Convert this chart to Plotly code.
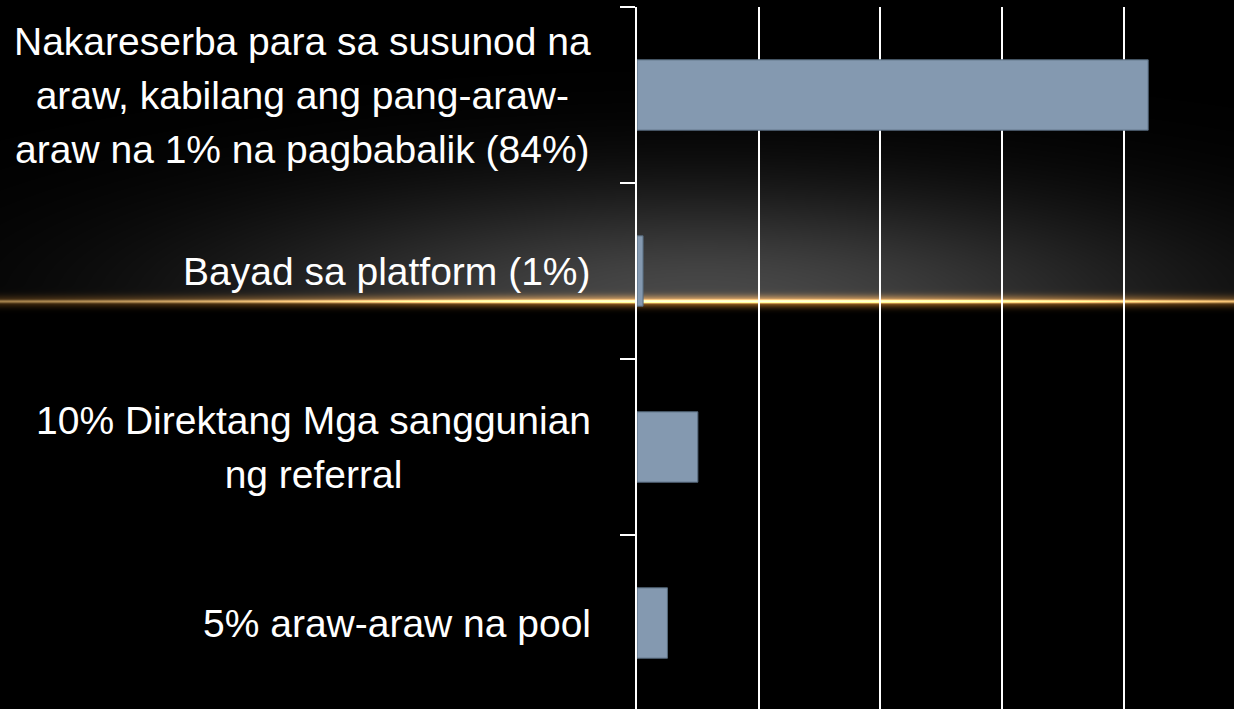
import base64
import struct
import zlib

import numpy as np
import plotly.graph_objects as go

# ---------------- data ----------------
categories = [
    "5% araw-araw na pool",
    "10% Direktang Mga sanggunian<br>ng referral",
    "Bayad sa platform (1%)",
    "Nakareserba para sa susunod na<br>araw, kabilang ang pang-araw-<br>araw na 1% na pagbabalik (84%)",
]
values = [5, 10, 1, 84]

# ---------------- decorative background (glow + golden line) ----------------
W, H = 1234, 709


def make_png(rgb):
    h, w, _ = rgb.shape
    raw = b"".join(b"\x00" + rgb[r].tobytes() for r in range(h))

    def chunk(tag, data):
        c = struct.pack(">I", len(data)) + tag + data
        return c + struct.pack(">I", zlib.crc32(tag + data) & 0xFFFFFFFF)

    png = b"\x89PNG\r\n\x1a\n"
    png += chunk(b"IHDR", struct.pack(">IIBBBBB", w, h, 8, 2, 0, 0, 0))
    png += chunk(b"IDAT", zlib.compress(raw, 9))
    png += chunk(b"IEND", b"")
    return "data:image/png;base64," + base64.b64encode(png).decode()


yy, xx = np.mgrid[0:H, 0:W].astype(float)
line_y = 301.0
img = np.zeros((H, W, 3), dtype=float)
glow = 72 * np.exp(-((xx - 700) / 470) ** 2 - ((yy - 298) / 110) ** 2)
glow *= np.clip((line_y + 3 - yy) / 4.0, 0, 1)
img += glow[..., None]
d = np.abs(yy - line_y)
hint = 0.35 + 0.65 * np.exp(-((xx - 760) / 480) ** 2)
core = np.exp(-(d / 1.6) ** 2) * hint
halo = np.exp(-(d / 6.0) ** 2) * hint
img += core[..., None] * np.array([235, 205, 140])
img += halo[..., None] * np.array([150, 95, 30])
img = np.clip(img, 0, 255).astype(np.uint8)
bg_src = make_png(img)

# ---------------- figure ----------------
L, R, T, B = 637, 0, 7, 0
pw, ph = W - L - R, H - T - B

fig = go.Figure(
    go.Bar(
        x=values,
        y=categories,
        orientation="h",
        marker=dict(color="#8499b0", line=dict(color="#55687b", width=1)),
        width=0.4,
        hoverinfo="x+y",
    )
)

for cat in categories:
    styled = "<br>".join(
        '<span style="font-size:39px">' + part + "</span>" for part in cat.split("<br>")
    )
    fig.add_annotation(
        x=0,
        xref="paper",
        y=cat,
        yref="y",
        text=styled,
        showarrow=False,
        xanchor="right",
        yanchor="middle",
        align="center",
        xshift=-44,
        font=dict(family="Liberation Sans, Arial, sans-serif", size=41.5, color="white"),
    )

fig.add_layout_image(
    source=bg_src,
    xref="paper",
    yref="paper",
    x=-L / pw,
    y=(ph + T) / ph,
    sizex=W / pw,
    sizey=H / ph,
    xanchor="left",
    yanchor="top",
    sizing="stretch",
    layer="below",
)

fig.update_layout(
    width=W,
    height=H,
    margin=dict(l=L, r=R, t=T, b=B, pad=0),
    paper_bgcolor="black",
    plot_bgcolor="rgba(0,0,0,0)",
    showlegend=False,
    bargap=0.6,
)
fig.update_xaxes(
    range=[0, 98.1],
    dtick=20,
    showgrid=True,
    gridcolor="white",
    gridwidth=1.5,
    zeroline=False,
    showline=False,
    showticklabels=False,
    ticks="",
)
fig.update_yaxes(
    type="category",
    categoryorder="array",
    categoryarray=categories,
    range=[-0.4886, 3.5],
    showline=True,
    linecolor="white",
    linewidth=2,
    ticks="outside",
    tickson="boundaries",
    ticklen=15,
    tickwidth=2,
    tickcolor="white",
    showticklabels=False,
    showgrid=False,
    zeroline=False,
)

fig.write_html(
    "out.html",
    config={"displayModeBar": False},
    post_script="document.body.style.margin='0';document.body.style.background='black';",
)
